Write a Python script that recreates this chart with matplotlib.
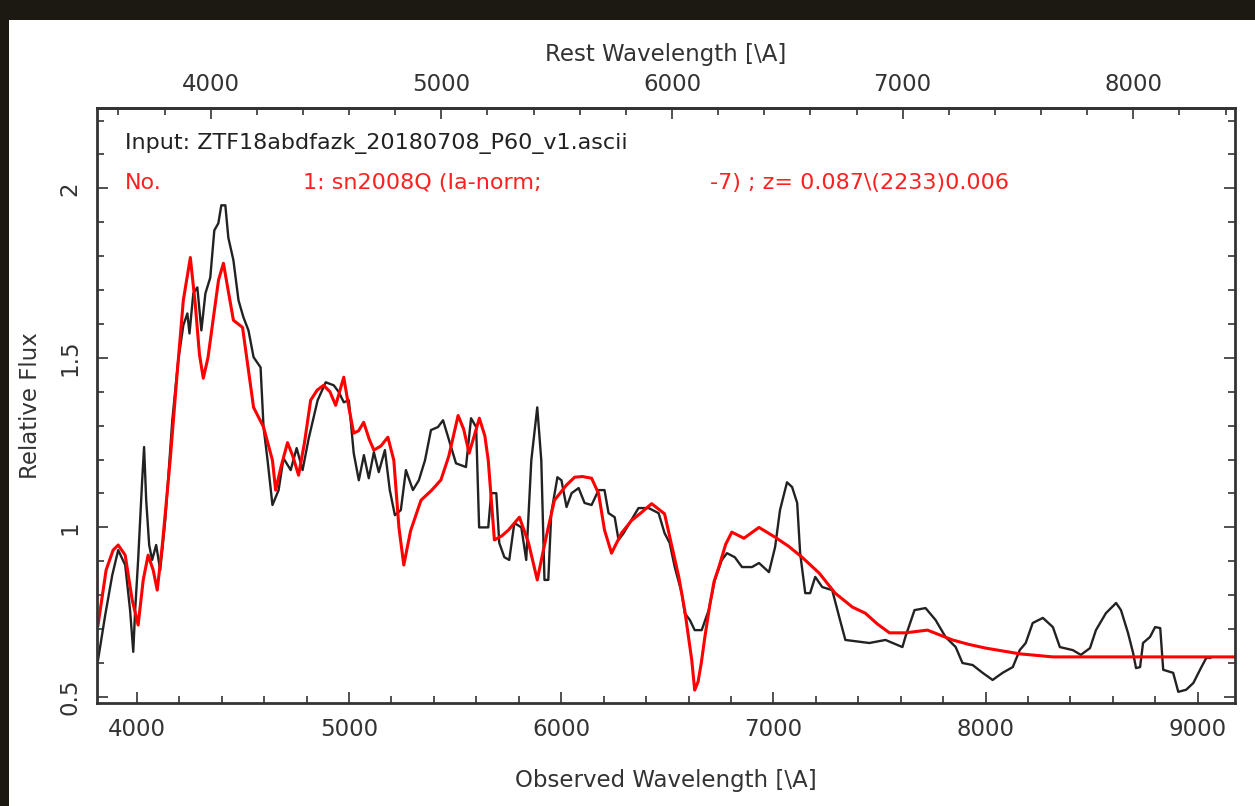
import matplotlib
matplotlib.use('Agg')
import matplotlib.pyplot as plt
from matplotlib.patches import Rectangle
from matplotlib.ticker import MultipleLocator, FixedLocator

# redshift of the best match
z = 0.087

# observed spectrum (black)
obs_wave = [3817, 3851, 3884, 3912, 3945, 3968, 3983, 3992, 4006, 4025, 4034, 4044,
            4058, 4072, 4091, 4110, 4134, 4167, 4195, 4219, 4238, 4248, 4266, 4285,
            4304, 4323, 4346, 4365, 4384, 4398, 4417, 4431, 4455, 4479, 4502, 4526,
            4550, 4583, 4597, 4616, 4639, 4668, 4691, 4725, 4753, 4781, 4810, 4852,
            4890, 4928, 4952, 4975, 4999, 5022, 5046, 5070, 5093, 5117, 5140, 5169,
            5192, 5216, 5244, 5268, 5301, 5329, 5358, 5386, 5419, 5443, 5481, 5504,
            5551, 5575, 5599, 5613, 5656, 5670, 5694, 5708, 5732, 5755, 5779, 5812,
            5835, 5859, 5887, 5906, 5921, 5939, 5953, 5982, 6001, 6025, 6049, 6082,
            6110, 6143, 6176, 6204, 6223, 6252, 6270, 6294, 6331, 6364, 6412, 6459,
            6487, 6511, 6535, 6568, 6582, 6606, 6629, 6662, 6695, 6724, 6757, 6781,
            6818, 6852, 6899, 6932, 6979, 7008, 7031, 7064, 7088, 7112, 7126, 7150,
            7173, 7197, 7230, 7277, 7310, 7339, 7452, 7528, 7608, 7622, 7665, 7717,
            7764, 7811, 7859, 7891, 7939, 7986, 8033, 8080, 8128, 8161, 8189, 8222,
            8270, 8317, 8350, 8411, 8449, 8492, 8520, 8567, 8615, 8638, 8671, 8695,
            8709, 8728, 8742, 8775, 8799, 8823, 8837, 8884, 8908, 8945, 8979, 9017,
            9040, 9059]
obs_flux = [0.609, 0.742, 0.859, 0.933, 0.889, 0.756, 0.633, 0.756, 0.904, 1.139, 1.237, 1.080,
            0.948, 0.904, 0.948, 0.874, 1.022, 1.316, 1.493, 1.596, 1.631, 1.572, 1.690, 1.708,
            1.581, 1.690, 1.737, 1.876, 1.897, 1.950, 1.950, 1.855, 1.788, 1.670, 1.620, 1.581,
            1.502, 1.472, 1.296, 1.198, 1.066, 1.110, 1.204, 1.169, 1.234, 1.169, 1.263, 1.375,
            1.428, 1.419, 1.399, 1.369, 1.375, 1.219, 1.139, 1.213, 1.145, 1.222, 1.163, 1.228,
            1.110, 1.036, 1.051, 1.169, 1.110, 1.139, 1.198, 1.287, 1.296, 1.316, 1.237, 1.189,
            1.178, 1.322, 1.296, 1.000, 1.000, 1.101, 1.101, 0.954, 0.912, 0.904, 1.013, 1.000,
            0.904, 1.198, 1.354, 1.198, 0.845, 0.845, 1.042, 1.148, 1.139, 1.060, 1.101, 1.116,
            1.072, 1.066, 1.110, 1.110, 1.042, 1.030, 0.963, 0.983, 1.022, 1.057, 1.057, 1.042,
            0.983, 0.954, 0.883, 0.806, 0.747, 0.727, 0.697, 0.697, 0.756, 0.845, 0.904, 0.924,
            0.912, 0.883, 0.883, 0.895, 0.868, 0.942, 1.051, 1.133, 1.119, 1.072, 0.924, 0.806,
            0.806, 0.854, 0.824, 0.815, 0.736, 0.668, 0.659, 0.668, 0.647, 0.677, 0.756, 0.762,
            0.727, 0.677, 0.647, 0.600, 0.594, 0.571, 0.550, 0.571, 0.588, 0.638, 0.659, 0.718,
            0.733, 0.706, 0.647, 0.638, 0.624, 0.644, 0.697, 0.747, 0.777, 0.756, 0.689, 0.630,
            0.585, 0.588, 0.659, 0.677, 0.706, 0.703, 0.580, 0.571, 0.515, 0.521, 0.541, 0.588,
            0.615, 0.615]

# template spectrum sn2008Q (red)
tmp_wave = [3817, 3855, 3888, 3912, 3945, 3978, 4006, 4030, 4053, 4077, 4096, 4120,
            4157, 4190, 4219, 4252, 4275, 4295, 4313, 4335, 4361, 4385, 4408, 4430,
            4455, 4498, 4550, 4597, 4639, 4654, 4680, 4710, 4735, 4762, 4790, 4819,
            4850, 4880, 4910, 4937, 4975, 5000, 5022, 5045, 5069, 5095, 5117, 5150,
            5183, 5211, 5235, 5258, 5290, 5339, 5390, 5433, 5470, 5514, 5540, 5566,
            5590, 5614, 5640, 5656, 5685, 5720, 5751, 5803, 5846, 5887, 5915, 5939,
            5968, 6025, 6063, 6100, 6143, 6176, 6204, 6237, 6284, 6331, 6380, 6426,
            6487, 6554, 6582, 6615, 6629, 6645, 6660, 6677, 6700, 6720, 6743, 6775,
            6804, 6861, 6932, 7008, 7070, 7135, 7216, 7291, 7372, 7433, 7490, 7547,
            7622, 7726, 7844, 7920, 8000, 8161, 8317, 8473, 9200]
tmp_flux = [0.712, 0.874, 0.933, 0.948, 0.918, 0.786, 0.712, 0.845, 0.918, 0.874, 0.815, 0.948,
            1.198, 1.455, 1.670, 1.796, 1.660, 1.510, 1.440, 1.500, 1.620, 1.730, 1.779, 1.700,
            1.611, 1.590, 1.354, 1.296, 1.198, 1.110, 1.180, 1.250, 1.210, 1.154, 1.250, 1.375,
            1.405, 1.419, 1.400, 1.360, 1.443, 1.350, 1.278, 1.285, 1.310, 1.260, 1.228, 1.240,
            1.266, 1.198, 1.000, 0.889, 0.990, 1.080, 1.110, 1.140, 1.210, 1.330, 1.290, 1.219,
            1.270, 1.322, 1.270, 1.198, 0.963, 0.975, 0.992, 1.030, 0.954, 0.845, 0.930, 1.000,
            1.080, 1.125, 1.148, 1.150, 1.145, 1.100, 0.992, 0.924, 0.983, 1.020, 1.045, 1.070,
            1.040, 0.854, 0.756, 0.609, 0.520, 0.545, 0.600, 0.677, 0.770, 0.840, 0.883, 0.950,
            0.986, 0.968, 1.000, 0.971, 0.945, 0.912, 0.865, 0.806, 0.765, 0.747, 0.715, 0.689,
            0.689, 0.697, 0.668, 0.655, 0.644, 0.627, 0.618, 0.618, 0.618]

input_line = 'Input: ZTF18abdfazk_20180708_P60_v1.ascii'
match_parts = ['No.', '1: sn2008Q (Ia-norm;', '-7) ; z= 0.087\\(2233)0.006']

fig = plt.figure(figsize=(12.55, 8.06), dpi=100)
fig.patch.set_facecolor('#1b1912')
fig.add_artist(Rectangle((9 / 1255, 0), 1, (806 - 20) / 806, transform=fig.transFigure,
                         facecolor='white', edgecolor='none', zorder=0))

ax = fig.add_axes([0.0771, 0.1282, 0.9069, 0.7378])
ax.plot(obs_wave, obs_flux, color='#222222', lw=1.7)
ax.plot(tmp_wave, tmp_flux, color='#ff0000', lw=2.2)
ax.set_xlim(3811, 9175)
ax.set_ylim(0.483, 2.237)

ax.xaxis.set_major_locator(MultipleLocator(1000))
ax.xaxis.set_minor_locator(MultipleLocator(200))
ax.yaxis.set_major_locator(MultipleLocator(0.5))
ax.yaxis.set_minor_locator(MultipleLocator(0.1))
ax.yaxis.set_major_formatter(plt.FuncFormatter(lambda v, p: '%g' % v))
ax.tick_params(which='both', direction='in', top=False, right=True, color='#333333',
               labelsize=16.5, labelcolor='#333333')
ax.tick_params(which='major', length=8, width=1.2)
ax.tick_params(which='minor', length=5, width=1.2)
ax.tick_params(axis='x', pad=11)
ax.tick_params(axis='y', pad=11, labelrotation=90)
for lab in ax.get_yticklabels():
    lab.set_va('center')
for sp in ax.spines.values():
    sp.set_color('#333333')
    sp.set_linewidth(2.0)

secax = ax.secondary_xaxis('top', functions=(lambda w: w / (1 + z), lambda w: w * (1 + z)))
secax.xaxis.set_major_locator(FixedLocator([4000, 5000, 6000, 7000, 8000]))
secax.xaxis.set_minor_locator(FixedLocator(list(range(3600, 8401, 200))))
secax.tick_params(which='both', direction='in', color='#333333', labelsize=16.5,
                  labelcolor='#333333', pad=9)
secax.tick_params(which='major', length=8, width=1.2)
secax.tick_params(which='minor', length=5, width=1.2)
secax.spines['top'].set_linewidth(2.0)
secax.spines['top'].set_color('#333333')
secax.set_xlabel('Rest Wavelength [\\A]', fontsize=16.5, color='#333333', labelpad=8)

ax.set_xlabel('Observed Wavelength [\\A]', fontsize=16.5, color='#333333', labelpad=20)
ax.set_ylabel('Relative Flux', fontsize=16.5, color='#333333', labelpad=12)

ax.text(0.025, 0.941, input_line, transform=ax.transAxes, fontsize=16,
        color='#222222', va='center')
for xpos, part in zip([0.025, 0.181, 0.539], match_parts):
    ax.text(xpos, 0.874, part, transform=ax.transAxes, fontsize=16,
            color='#ff2020', va='center')

fig.savefig('out.png', dpi=100, facecolor=fig.get_facecolor())
